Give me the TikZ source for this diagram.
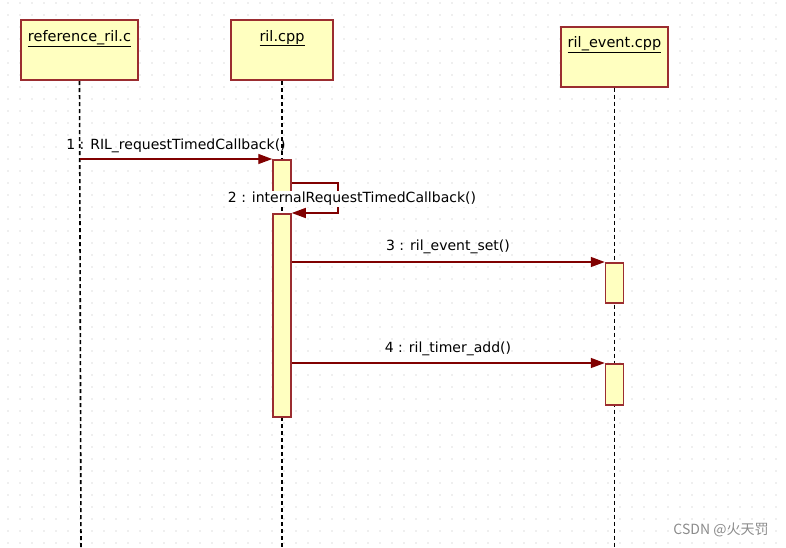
\documentclass[tikz,border=0pt]{standalone}
\usepackage{fontspec}
\setmainfont{DejaVu Sans}
\newfontfamily\cjkfont{Noto Sans CJK SC}
\usetikzlibrary{arrows.meta, positioning, calc}
\definecolor{umlred}{HTML}{9B2D30}
\definecolor{umlfill}{HTML}{FFFFC0}
\definecolor{msgred}{HTML}{800000}
\definecolor{griddot}{HTML}{BDBDBD}
\tikzset{
  x=1pt, y=-1pt,
  font=\fontsize{14}{16}\selectfont,
  objbox/.style={
    draw=umlred, fill=umlfill, line width=2pt,
    minimum width=#1, minimum height=60pt, inner sep=0pt
  },
  objname/.style={inner sep=1pt, font=\fontsize{14.5}{16}\selectfont},
  lifeline/.style={line width=1.6pt, dash pattern=on 4pt off 3pt},
  actbar/.style={
    draw=umlred, fill=umlfill, line width=1.5pt,
    minimum width=18pt, minimum height=#1, inner sep=0pt, anchor=north
  },
  msg/.style={draw=msgred, line width=1.4pt,
    -{Triangle[length=14pt,width=10pt]}},
  msglbl/.style={inner sep=1pt, font=\fontsize{14}{16}\selectfont}
}
\begin{document}
\begin{tikzpicture}
  \useasboundingbox (0,0) rectangle (786,547);
  \fill[white] (0,0) rectangle (786,547);
  % dotted grid
  \foreach \i in {0,...,65} {
    \foreach \j in {0,...,45} {
      \fill[griddot] (8+12*\i,3+12*\j) circle (0.7pt);
    }
  }

  % objects
  \node[objbox=117pt] (refc) at (79.5,50) {};
  \node[objname, below=10pt of refc.north] (refcT) {\underline{reference\_ril.c}};
  \node[objbox=102pt] (rilc) at (282,50) {};
  \node[objname, below=10pt of rilc.north] (rilcT) {\underline{ril.cpp}};
  \node[objbox=107pt] (evt) at (614.5,56.5) {};
  \node[objname, below=10pt of evt.north] (evtT) {\underline{ril\_event.cpp}};

  \coordinate (refcEnd) at (81,547);
  \coordinate (rilcEnd) at (282,547);
  \coordinate (evtEnd) at (614.5,547);
  \draw[lifeline] (refc.south) -- (refcEnd);
  \draw[lifeline] (rilc.south) -- (rilcEnd);
  \draw[lifeline] (evt.south) -- (evtEnd);

  % activations
  \node[actbar=42pt] (act1) at (282,159) {};
  \node[actbar=203pt] (act2) at (282,213) {};
  \node[actbar=40pt] (act3) at (614.5,262) {};
  \node[actbar=41pt] (act4) at (614.5,363) {};

  % messages
  \draw[msg] (act1.north west -| refc) -- (act1.north west);
  \node[msglbl] (m1) at (176,146) {1 : RIL\_requestTimedCallback()};

  \coordinate (loopR) at (338,183);
  \draw[msg] (act1.east |- loopR) -- (loopR) -- (loopR |- act2.north) -- (act2.north east);
  \node[msglbl, fill=white] (m2) at (352,199) {2 : internalRequestTimedCallback()};

  \draw[msg] (act2.east |- act3.north) -- (act3.north west);
  \node[msglbl] (m3) at (448,247) {3 : ril\_event\_set()};
  \draw[msg] (act2.east |- act4.north) -- (act4.north west);
  \node[msglbl] (m4) at (448,349) {4 : ril\_timer\_add()};

  \node[text=black!45, inner sep=0pt] (wm) at (721,530) {\cjkfont\fontsize{14}{16}\selectfont CSDN @火天罚};
\end{tikzpicture}
\end{document}
